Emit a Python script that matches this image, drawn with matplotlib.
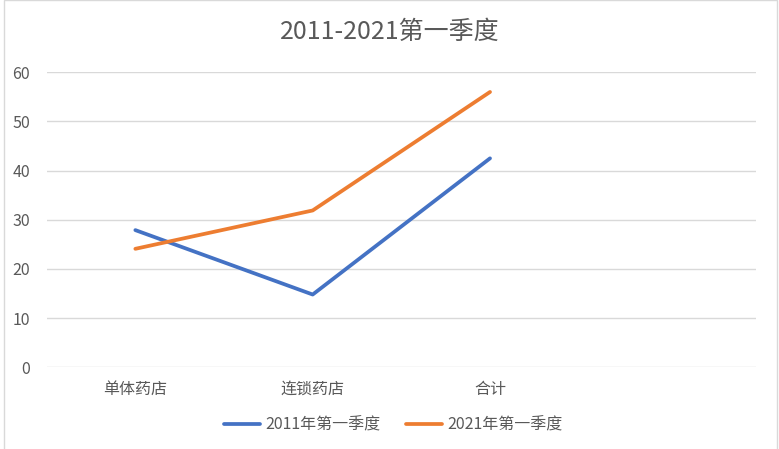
import matplotlib
matplotlib.use("Agg")
import matplotlib.pyplot as plt
from matplotlib.patches import Rectangle

plt.rcParams['font.family'] = ['Noto Sans CJK SC', 'DejaVu Sans']

# data
categories = ["单体药店", "连锁药店", "合计"]
q1_2011 = [27.9, 14.8, 42.5]
q1_2021 = [24.1, 31.9, 56.0]
series_names = ["2011年第一季度", "2021年第一季度"]
yticks = [0, 10, 20, 30, 40, 50, 60]

text_color = "#595959"
grid_color = "#D9D9D9"

fig = plt.figure(figsize=(7.79, 4.49), dpi=100)
ax = fig.add_axes([46.7 / 779, 1 - 367.3 / 449, (756 - 46.7) / 779, (367.3 - 72.3) / 449])

x = list(range(len(categories)))
ax.plot(x, q1_2011, color="#4472C4", lw=2.7, label=series_names[0], solid_capstyle="round")
ax.plot(x, q1_2021, color="#ED7D31", lw=2.7, label=series_names[1], solid_capstyle="round")

# excel leaves room for a fourth, empty category
ax.set_xlim(-0.5, 3.5)
ax.set_ylim(0, 60)
ax.set_xticks(x)
ax.set_xticklabels(categories)
ax.set_yticks(yticks)

ax.grid(axis="y", color=grid_color, lw=1)
ax.set_axisbelow(True)
for s in ax.spines.values():
    s.set_visible(False)
ax.tick_params(length=0, colors=text_color, labelsize=11.5)
ax.tick_params(axis="y", pad=12)
ax.tick_params(axis="x", pad=10)

fig.text(390 / 779, 1 - 32 / 449, "2011-2021第一季度", ha="center", va="center",
         fontsize=18, color=text_color)

leg = ax.legend(loc="center", bbox_to_anchor=(393 / 779, 1 - 425 / 449),
                bbox_transform=fig.transFigure, ncol=2, frameon=False,
                fontsize=11.5, handlelength=2.3, handletextpad=0.3, columnspacing=1.6)
for t in leg.get_texts():
    t.set_color(text_color)

# light chart border like excel's
fig.patches.append(Rectangle((3.5 / 779, -0.05), 773 / 779, 1.05 - 0.5 / 449,
                             transform=fig.transFigure, fill=False,
                             edgecolor=grid_color, lw=1))

fig.savefig("out.png", dpi=100)
